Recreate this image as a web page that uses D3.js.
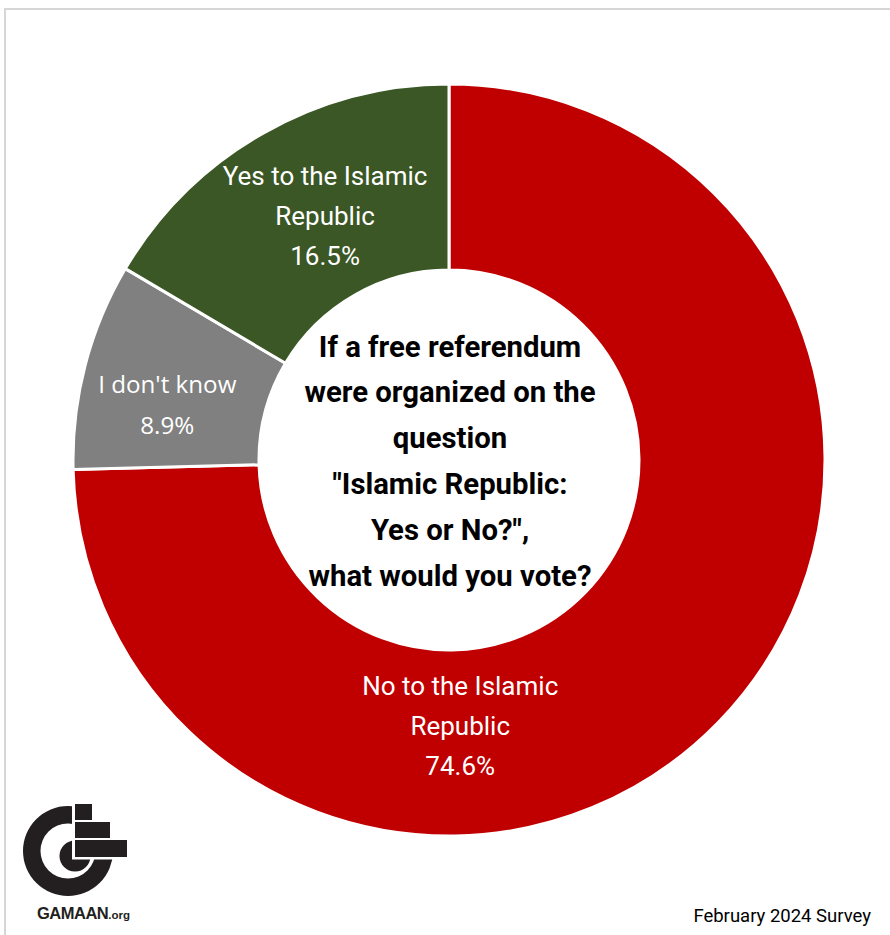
<!DOCTYPE html>
<html>
<head>
<meta charset="utf-8">
<script src="https://cdn.jsdelivr.net/npm/d3@7/dist/d3.min.js"></script>
<style>
  html, body { margin: 0; padding: 0; background: #ffffff; }
  svg { display: block; }
</style>
</head>
<body>
<svg id="chart" width="890" height="935"></svg>
<script>
// ---- data ----
const categories = ["No to the Islamic Republic", "I don't know", "Yes to the Islamic Republic"];
const values = [74.6, 8.9, 16.5];
const labelLines = [
  ["No to the Islamic", "Republic", "74.6%"],
  ["I don't know", "8.9%"],
  ["Yes to the Islamic", "Republic", "16.5%"]
];
const colors = ["#C00000", "#808080", "#3A5725"];
const centerTitle = ["If a free referendum", "were organized on the", "question", "\"Islamic Republic:", "Yes or No?\",", "what would you vote?"];
const footnote = "February 2024 Survey";

// ---- layout ----
const W = 890, H = 935;
const cx = 449, cy = 460;
const outerR = 376, innerR = 190;

const svg = d3.select("#chart");

// frame border (only top & left visible)
svg.append("rect")
  .attr("x", 5).attr("y", 9)
  .attr("width", W + 20).attr("height", H + 20)
  .attr("fill", "none")
  .attr("stroke", "#d6d6d6")
  .attr("stroke-width", 2);

const pie = d3.pie().sort(null).value(d => d)(values);
const arc = d3.arc().innerRadius(innerR).outerRadius(outerR);

const g = svg.append("g").attr("transform", `translate(${cx},${cy})`);

g.selectAll("path.slice")
  .data(pie)
  .join("path")
  .attr("class", "slice")
  .attr("d", arc)
  .attr("fill", (d, i) => colors[i])
  .attr("stroke", "#ffffff")
  .attr("stroke-width", 3)
  .attr("stroke-linejoin", "miter");

// label placement: polar (angle in degrees clockwise from top, radius)
const labelPlace = [
  { angle: 177.6, r: 267, font: "Roboto, 'Noto Sans', sans-serif", size: 26, lh: 40 },
  { angle: 281.0, r: 287, font: "'Open Sans', 'Noto Sans', sans-serif", size: 24.2, lh: 41 },
  { angle: 333.0, r: 273, font: "Roboto, 'Noto Sans', sans-serif", size: 26, lh: 40 }
];

pie.forEach((d, i) => {
  const p = labelPlace[i];
  const a = p.angle * Math.PI / 180;
  const lx = p.r * Math.sin(a);
  const ly = -p.r * Math.cos(a);
  const lines = labelLines[i];
  const t = g.append("text")
    .attr("text-anchor", "middle")
    .attr("fill", "#ffffff")
    .style("font-family", p.font)
    .style("font-size", p.size + "px");
  lines.forEach((ln, k) => {
    t.append("tspan")
      .attr("x", lx)
      .attr("y", ly + (k - (lines.length - 1) / 2) * p.lh + 8.5)
      .text(ln);
  });
});

// center title
const ct = g.append("text")
  .attr("text-anchor", "middle")
  .attr("fill", "#000000")
  .style("font-family", "Roboto, 'Noto Sans', sans-serif")
  .style("font-weight", "700")
  .style("font-size", "29.3px");
centerTitle.forEach((ln, k) => {
  ct.append("tspan")
    .attr("x", 1)
    .attr("y", (k - (centerTitle.length - 1) / 2) * 45.8 + 11)
    .text(ln);
});

// footnote
svg.append("text")
  .attr("x", 871).attr("y", 922)
  .attr("text-anchor", "end")
  .attr("fill", "#000000")
  .style("font-family", "Roboto, 'Noto Sans', sans-serif")
  .style("font-size", "18.5px")
  .text(footnote);

// GAMAAN logo
const logo = svg.append("g");
const ringArc = d3.arc().innerRadius(27.5).outerRadius(45).startAngle(0).endAngle(2 * Math.PI);
logo.append("path").attr("transform", "translate(68,851)").attr("d", ringArc()).attr("fill", "#231f20");
logo.append("circle").attr("cx", 75).attr("cy", 856).attr("r", 15.5).attr("fill", "#231f20");
logo.append("rect").attr("x", 72).attr("y", 798).attr("width", 60).attr("height", 61.5).attr("fill", "#ffffff");
[[75, 804, 17, 16], [75, 822, 35, 16], [75, 840, 52, 17]].forEach(r => {
  logo.append("rect").attr("x", r[0]).attr("y", r[1]).attr("width", r[2]).attr("height", r[3]).attr("fill", "#231f20");
});
const lt = logo.append("text")
  .attr("x", 37).attr("y", 919)
  .attr("fill", "#231f20")
  .style("font-family", "'Liberation Sans', Arial, sans-serif")
  .style("font-weight", "700");
lt.append("tspan").style("font-size", "16.5px").style("letter-spacing", "-0.5px").text("GAMAAN");
lt.append("tspan").style("font-size", "11.5px").text(".org");
</script>
</body>
</html>
